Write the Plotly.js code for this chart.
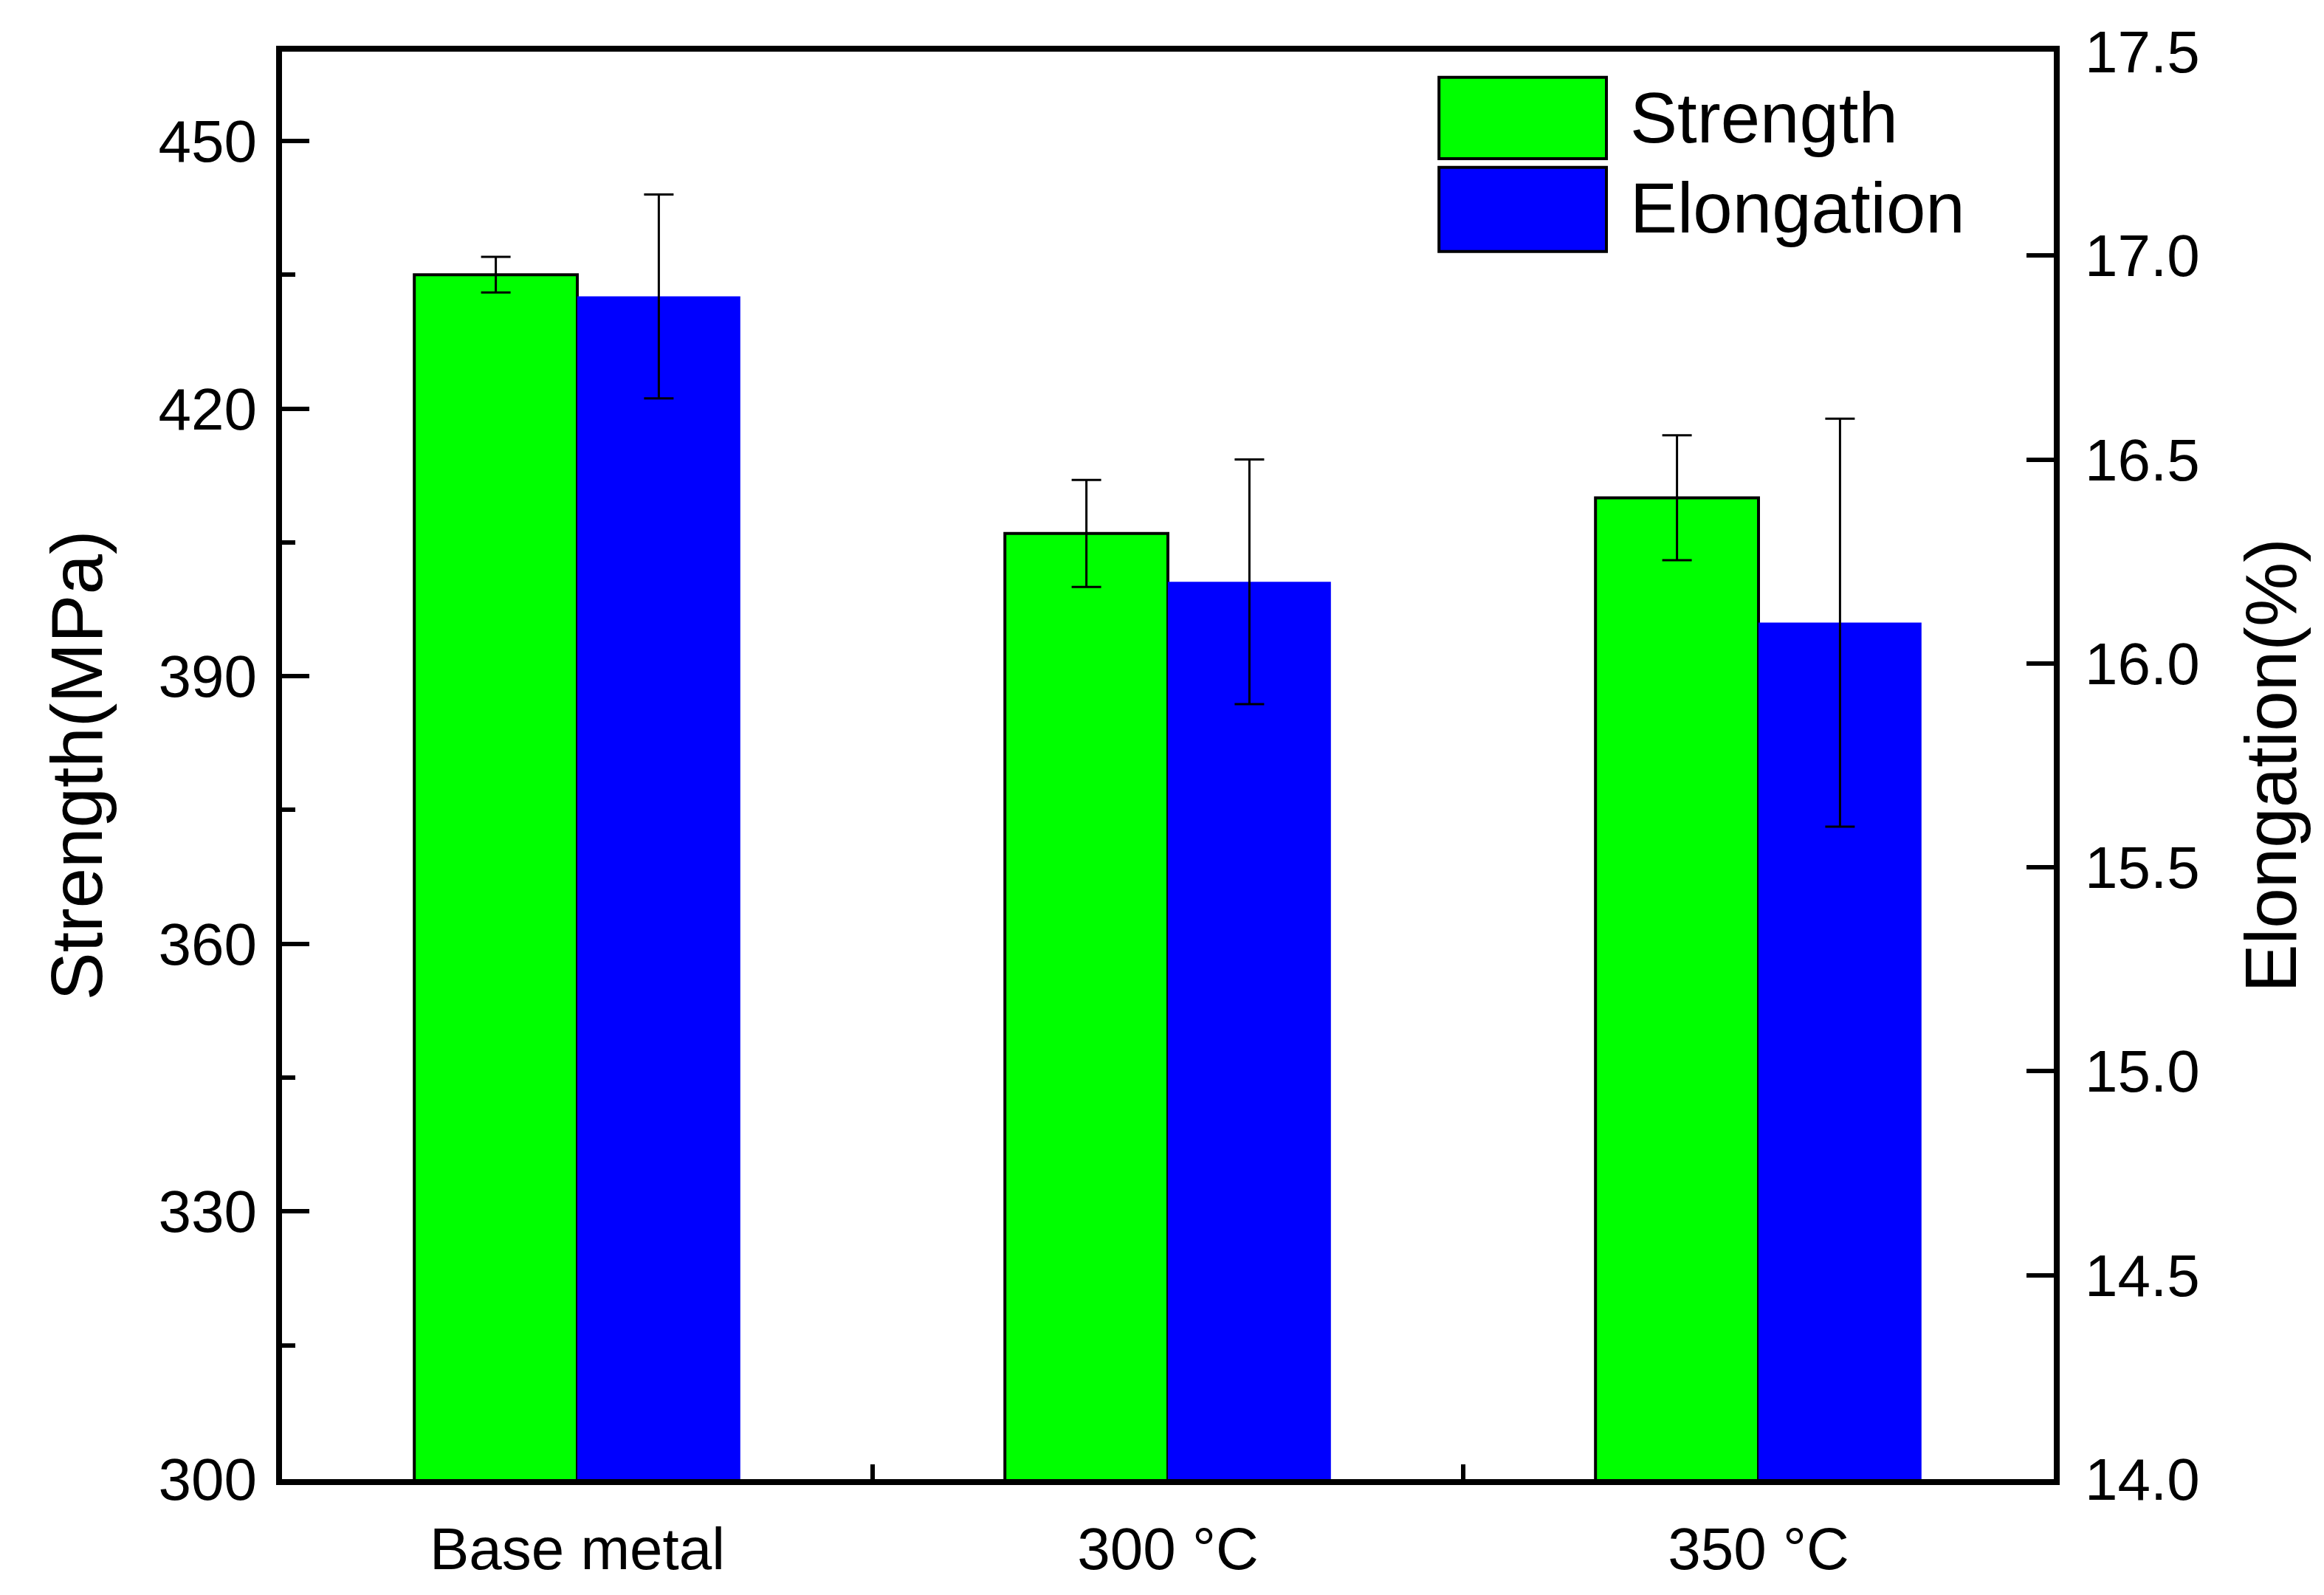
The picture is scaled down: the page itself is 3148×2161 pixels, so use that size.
<!DOCTYPE html>
<html>
<head>
<meta charset="utf-8">
<script src="https://cdn.plot.ly/plotly-3.0.1.min.js"></script>
<style>
  html, body { margin: 0; padding: 0; background: #ffffff; }
  #chart { width: 3148px; height: 2161px; }
</style>
</head>
<body>
<div id="chart"></div>
<script>
// Data
const categories = ["Base metal", "300 °C", "350 °C"];
const strength = [435, 406, 410];
const strengthErr = [2, 6, 7];
const elongation = [16.9, 16.2, 16.1];
const elongationErr = [0.25, 0.3, 0.5];
const seriesNames = ["Strength", "Elongation"];
const seriesColors = ["#00ff00", "#0000ff"];

const FONT = "Liberation Sans, Arial, Helvetica, sans-serif";
const BAR_W = 0.276;

function errorBars(values) {
    return {
        type: "data",
        array: values,
        visible: true,
        color: "#000000",
        thickness: 3,
        width: 20
    };
}

const traces = [
    {
        type: "bar",
        name: seriesNames[0],
        x: categories,
        y: strength,
        yaxis: "y",
        width: BAR_W,
        offset: -BAR_W,
        marker: { color: seriesColors[0], line: { color: "#000000", width: 4 } },
        error_y: errorBars(strengthErr),
        showlegend: false
    },
    {
        type: "bar",
        name: seriesNames[1],
        x: categories,
        y: elongation,
        yaxis: "y2",
        width: BAR_W,
        offset: 0,
        marker: { color: seriesColors[1], line: { width: 0 } },
        error_y: errorBars(elongationErr),
        showlegend: false
    }
];

// Hand-made legend (the reference uses large swatches)
const legendShapes = [
    { y0: 0.925, y1: 0.982 },
    { y0: 0.860, y1: 0.919 }
].map((pos, i) => ({
    type: "rect",
    xref: "paper", yref: "paper",
    x0: 0.653, x1: 0.7475, y0: pos.y0, y1: pos.y1,
    fillcolor: seriesColors[i],
    line: { color: "#000000", width: 4 }
}));

const legendLabels = [0.9535, 0.8904].map((y, i) => ({
    xref: "paper", yref: "paper",
    x: 0.76, y: y,
    xanchor: "left", yanchor: "middle",
    text: seriesNames[i],
    showarrow: false,
    font: { family: FONT, size: 96, color: "#000000" }
}));

const axisCommon = {
    showline: true,
    linecolor: "#000000",
    linewidth: 8,
    showgrid: false,
    zeroline: false,
    ticks: "inside",
    tickcolor: "#000000",
    tickwidth: 6,
    tickfont: { family: FONT, size: 80, color: "#000000" }
};

const layout = {
    width: 3148,
    height: 2161,
    margin: { l: 382, r: 366, t: 70, b: 157 },
    paper_bgcolor: "#ffffff",
    plot_bgcolor: "#ffffff",
    font: { family: FONT, color: "#000000" },
    barmode: "overlay",
    showlegend: false,
    xaxis: {
        ...axisCommon,
        type: "category",
        range: [-0.5, 2.5],
        mirror: true,
        tickson: "boundaries",
        ticklen: 20,
        ticklabelstandoff: 18
    },
    yaxis: {
        ...axisCommon,
        range: [300, 460],
        tick0: 300,
        dtick: 30,
        ticklen: 37,
        ticklabelstandoff: 10,
        minor: { dtick: 15, ticks: "inside", ticklen: 18, tickwidth: 6, tickcolor: "#000000" },
        title: { text: "Strength(MPa)", font: { family: FONT, size: 98, color: "#000000" }, standoff: 46 }
    },
    yaxis2: {
        ...axisCommon,
        overlaying: "y",
        side: "right",
        range: [14, 17.5],
        tick0: 14,
        dtick: 0.5,
        tickformat: ".1f",
        ticklen: 37,
        ticklabelstandoff: 18,
        title: { text: "Elongation(%)", font: { family: FONT, size: 98, color: "#000000" }, standoff: 66 }
    },
    shapes: legendShapes,
    annotations: legendLabels
};

Plotly.newPlot("chart", traces, layout, { displayModeBar: false, staticPlot: true });
</script>
</body>
</html>
